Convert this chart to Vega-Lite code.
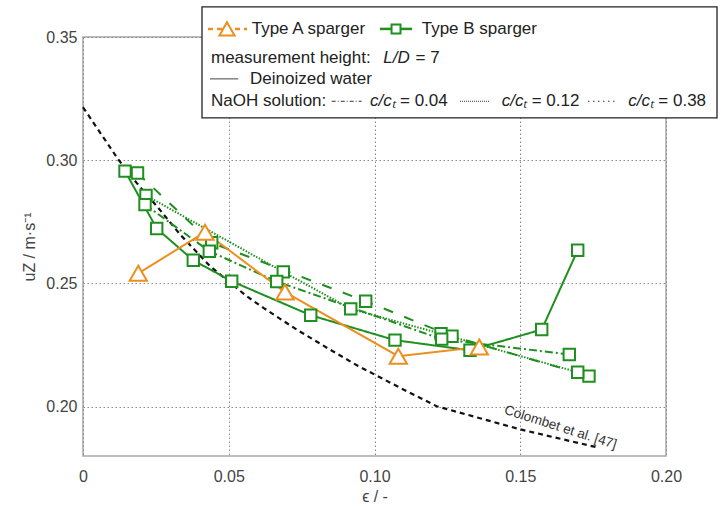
{
  "$schema": "https://vega.github.io/schema/vega-lite/v6.json",
  "width": 583,
  "height": 419,
  "autosize": {"type": "none"},
  "padding": {"left": 83, "top": 37, "right": 61, "bottom": 50},
  "background": "white",
  "config": {
    "view": {"stroke": "#a8a8a8", "strokeWidth": 1.5},
    "font": "Liberation Sans",
    "axis": {
      "grid": true, "gridColor": "#8a8a8a", "gridDash": [1.5, 2.5], "gridWidth": 1,
      "domain": false, "ticks": false,
      "labelFont": "Liberation Sans", "labelFontSize": 16, "labelColor": "#444", "labelFlush": false,
      "titleFont": "Liberation Sans", "titleFontSize": 16, "titleColor": "#444", "titleFontWeight": "normal"
    }
  },
  "datasets": {
    "colombet": [
      {"eps": 0.0, "u": 0.3215}, {"eps": 0.0121, "u": 0.3003}, {"eps": 0.0184, "u": 0.2908},
      {"eps": 0.0258, "u": 0.2807}, {"eps": 0.0333, "u": 0.2699}, {"eps": 0.0436, "u": 0.257},
      {"eps": 0.0562, "u": 0.2448}, {"eps": 0.0619, "u": 0.2401}, {"eps": 0.0733, "u": 0.2313},
      {"eps": 0.0847, "u": 0.2232}, {"eps": 0.0944, "u": 0.2165}, {"eps": 0.1099, "u": 0.207},
      {"eps": 0.1213, "u": 0.2002}, {"eps": 0.150, "u": 0.1908}, {"eps": 0.1768, "u": 0.1834}
    ],
    "green": [
      {"series": "water", "eps": 0.01441, "u": 0.2956}, {"series": "water", "eps": 0.02528, "u": 0.2723},
      {"series": "water", "eps": 0.03784, "u": 0.2594}, {"series": "water", "eps": 0.05101, "u": 0.2509},
      {"series": "water", "eps": 0.07811, "u": 0.2371}, {"series": "water", "eps": 0.10703, "u": 0.2270},
      {"series": "water", "eps": 0.13276, "u": 0.2229}, {"series": "water", "eps": 0.15736, "u": 0.2313},
      {"series": "water", "eps": 0.16971, "u": 0.2635},
      {"series": "c038", "eps": 0.01870, "u": 0.2948}, {"series": "c038", "eps": 0.04415, "u": 0.2665},
      {"series": "c038", "eps": 0.09698, "u": 0.2428}, {"series": "c038", "eps": 0.12659, "u": 0.2286},
      {"series": "c038", "eps": 0.17358, "u": 0.2124},
      {"series": "c012", "eps": 0.02161, "u": 0.2857}, {"series": "c012", "eps": 0.06871, "u": 0.2547},
      {"series": "c012", "eps": 0.09184, "u": 0.2397}, {"series": "c012", "eps": 0.12281, "u": 0.2296},
      {"series": "c012", "eps": 0.16971, "u": 0.2140},
      {"series": "c004", "eps": 0.02127, "u": 0.2820}, {"series": "c004", "eps": 0.04333, "u": 0.2631},
      {"series": "c004", "eps": 0.06645, "u": 0.2508}, {"series": "c004", "eps": 0.12305, "u": 0.2274},
      {"series": "c004", "eps": 0.16683, "u": 0.2212}
    ],
    "typeA": [
      {"eps": 0.01897, "u": 0.2541}, {"eps": 0.04185, "u": 0.2708}, {"eps": 0.06930, "u": 0.2465},
      {"eps": 0.10816, "u": 0.2205}, {"eps": 0.13595, "u": 0.2242}
    ]
  },
  "encoding": {
    "x": {"field": "eps", "type": "quantitative",
      "scale": {"domain": [0, 0.2], "nice": false, "zero": false},
      "axis": {"values": [0, 0.05, 0.1, 0.15, 0.2], "labelExpr": "datum.value == 0 ? '0' : format(datum.value, '.2f')", "labelPadding": 12, "titlePadding": 4},
      "title": "ϵ / -"},
    "y": {"field": "u", "type": "quantitative",
      "scale": {"domain": [0.18, 0.35], "nice": false, "zero": false},
      "axis": {"values": [0.2, 0.25, 0.3, 0.35], "format": ".2f", "labelPadding": 6, "titlePadding": 8},
      "title": "uZ / m·s⁻¹"}
  },
  "layer": [
    {"data": {"name": "colombet"}, "mark": {"type": "line", "color": "#111", "strokeWidth": 2.2, "strokeDash": [5, 4]}},
    {"data": {"values": [{"eps": 0.1638, "u": 0.1916, "t": "Colombet et al. [47]"}]},
      "mark": {"type": "text", "angle": 17.5, "fontSize": 13.5, "color": "#333", "align": "center", "baseline": "middle"},
      "encoding": {"text": {"field": "t"}}},
    {"data": {"name": "green"}, "mark": {"type": "line", "color": "#1f8f1f", "strokeWidth": 2},
      "encoding": {"detail": {"field": "series"},
        "strokeDash": {"field": "series", "type": "nominal", "legend": null,
          "scale": {"domain": ["water", "c004", "c012", "c038"], "range": [[1, 0], [8, 3, 2, 3], [1.5, 1.5], [10, 12]]}}}},
    {"data": {"name": "typeA"}, "mark": {"type": "line", "color": "#ec8f1f", "strokeWidth": 2}},
    {"data": {"name": "green"}, "mark": {"type": "point", "shape": "square", "size": 130, "filled": false, "fill": "white", "fillOpacity": 1, "color": "#1f8f1f", "strokeWidth": 2, "opacity": 1}},
    {"data": {"name": "typeA"}, "mark": {"type": "point", "shape": "triangle-up", "size": 300, "filled": false, "fill": "white", "fillOpacity": 1, "color": "#ec8f1f", "strokeWidth": 2, "opacity": 1}},
    {"data": {"values": [{"eps": 0.04082, "eps2": 0.2175, "u": 0.3622, "u2": 0.3172}]},
      "mark": {"type": "rect", "fill": "white", "stroke": "#222", "strokeWidth": 1.3},
      "encoding": {"x2": {"field": "eps2"}, "y2": {"field": "u2"}}},
    {"data": {"values": [{"eps": 0.04288, "eps2": 0.05626, "u": 0.35328}]},
      "mark": {"type": "rule", "color": "#ec8f1f", "strokeWidth": 2.5, "strokeDash": [5, 4]}, "encoding": {"x2": {"field": "eps2"}}},
    {"data": {"values": [{"eps": 0.0494, "u": 0.35328}]},
      "mark": {"type": "point", "shape": "triangle-up", "size": 230, "filled": false, "fill": "white", "fillOpacity": 1, "color": "#ec8f1f", "strokeWidth": 2, "opacity": 1}},
    {"data": {"values": [{"eps": 0.10189, "eps2": 0.11286, "u": 0.35328}]},
      "mark": {"type": "rule", "color": "#1f8f1f", "strokeWidth": 2.5}, "encoding": {"x2": {"field": "eps2"}}},
    {"data": {"values": [{"eps": 0.10738, "u": 0.35328}]},
      "mark": {"type": "point", "shape": "square", "size": 80, "filled": false, "fill": "white", "fillOpacity": 1, "color": "#1f8f1f", "strokeWidth": 2, "opacity": 1}},
    {"data": {"values": [{"eps": 0.04357, "eps2": 0.05328, "u": 0.33301}]},
      "mark": {"type": "rule", "color": "#444", "strokeWidth": 1}, "encoding": {"x2": {"field": "eps2"}}},
    {"data": {"values": [{"eps": 0.08532, "eps2": 0.09561, "u": 0.32393}]},
      "mark": {"type": "rule", "color": "#333", "strokeWidth": 1, "strokeDash": [4, 2, 1, 2]}, "encoding": {"x2": {"field": "eps2"}}},
    {"data": {"values": [{"eps": 0.12933, "eps2": 0.13962, "u": 0.32393}]},
      "mark": {"type": "rule", "color": "#333", "strokeWidth": 1, "strokeDash": [1, 1]}, "encoding": {"x2": {"field": "eps2"}}},
    {"data": {"values": [{"eps": 0.17324, "eps2": 0.18309, "u": 0.32393}]},
      "mark": {"type": "rule", "color": "#333", "strokeWidth": 1.2, "strokeDash": [1.5, 3.5]}, "encoding": {"x2": {"field": "eps2"}}},
    {"data": {"values": [
        {"eps": 0.05787, "u": 0.35328, "t": "Type A sparger"},
        {"eps": 0.11619, "u": 0.35328, "t": "Type B sparger"},
        {"eps": 0.04391, "u": 0.34152, "t": "measurement height:"},
        {"eps": 0.1141, "u": 0.34152, "t": "= 7"},
        {"eps": 0.05729, "u": 0.33301, "t": "Deinoized water"},
        {"eps": 0.04391, "u": 0.32393, "t": "NaOH solution:"},
        {"eps": 0.10875, "u": 0.32393, "t": "= 0.04"},
        {"eps": 0.15393, "u": 0.32393, "t": "= 0.12"},
        {"eps": 0.19736, "u": 0.32393, "t": "= 0.38"}
      ]},
      "mark": {"type": "text", "align": "left", "baseline": "middle", "fontSize": 17, "color": "#222"},
      "encoding": {"text": {"field": "t"}}},
    {"data": {"values": [
        {"eps": 0.10302, "u": 0.34152, "t": "L/D"},
        {"eps": 0.09846, "u": 0.32393, "t": "c/cₜ"},
        {"eps": 0.14364, "u": 0.32393, "t": "c/cₜ"},
        {"eps": 0.18707, "u": 0.32393, "t": "c/cₜ"}
      ]},
      "mark": {"type": "text", "align": "left", "baseline": "middle", "fontSize": 17, "fontStyle": "italic", "color": "#222"},
      "encoding": {"text": {"field": "t"}}}
  ]
}
